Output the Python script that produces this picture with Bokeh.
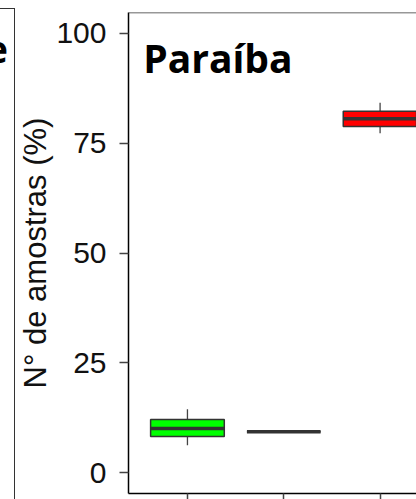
import numpy as np
from bokeh.plotting import figure
from bokeh.layouts import row
from bokeh.models import ColumnDataSource, Range1d, FixedTicker, Span, Label, Div
from bokeh.embed import file_html
from bokeh.resources import INLINE

# ---- data ----
positions = [1, 2, 3]
q1 = [8.2, 9.3, 78.8]
median = [10.0, 9.3, 80.6]
q3 = [12.1, 9.3, 82.3]
whisker_low = [6.2, 9.3, 77.3]
whisker_high = [14.4, 9.3, 84.2]
box_colors = ["#00FF00", "#00FF00", "#FF0000"]
y_ticks = [0, 25, 50, 75, 100]
title_text = "Paraíba"
y_label = "N° de amostras (%)"
neighbour_title_tail = "e"

box_w = 0.765
pos = np.array(positions, dtype=float)
src = ColumnDataSource(dict(
    x=pos, q1=q1, q3=q3, med=median, lo=whisker_low, hi=whisker_high,
    color=box_colors, x0=pos - box_w / 2, x1=pos + box_w / 2,
))

H = 499
Y0, Y1 = -4.78, 104.78

# ---- left sliver of the neighbouring panel (frame edge + end of its title) ----
sliver_html = (
    '<div style="position:absolute;left:0;top:8px;width:14.75px;height:495px;'
    'box-sizing:border-box;border-top:1.5px solid #333;'
    'border-right:1.5px solid #333;"></div>'
    '<div style="position:absolute;right:7px;top:29px;font-family:\'Open Sans\';'
    'font-weight:bold;font-size:38px;line-height:1;color:black;'
    'white-space:nowrap;">' + neighbour_title_tail + '</div>'
)
lp = Div(text=sliver_html, width=15, height=H, margin=0,
         styles={"position": "relative", "overflow": "visible"})

# ---- main panel ----
p = figure(width=401, height=H, output_backend="svg", toolbar_location=None,
           title=None, x_range=Range1d(0.388, 3.378), y_range=Range1d(Y0, Y1),
           min_border_left=108, min_border_right=0, min_border_top=12,
           min_border_bottom=6, margin=0)
p.outline_line_color = None
p.grid.visible = False
p.background_fill_color = "white"

# y axis
ya = p.yaxis[0]
ya.ticker = FixedTicker(ticks=y_ticks)
ya.axis_line_color = "black"
ya.axis_line_width = 1.5
ya.major_tick_in = 0
ya.major_tick_out = 9
ya.major_tick_line_color = "#444444"
ya.major_tick_line_width = 1.5
ya.minor_tick_line_color = None
ya.major_label_text_font = "Liberation Sans"
ya.major_label_text_font_size = "30px"
ya.major_label_text_color = "#111111"
ya.major_label_standoff = 13
ya.axis_label = y_label
ya.axis_label_text_font = "Liberation Sans"
ya.axis_label_text_font_size = "31px"
ya.axis_label_text_font_style = "normal"
ya.axis_label_text_color = "#111111"
ya.axis_label_standoff = 0

# x axis (its labels fall outside the picture)
xa = p.xaxis[0]
xa.ticker = FixedTicker(ticks=positions)
xa.axis_line_color = "black"
xa.axis_line_width = 1.5
xa.major_tick_in = 0
xa.major_tick_out = 6
xa.major_tick_line_color = "#444444"
xa.major_tick_line_width = 1.5
xa.minor_tick_line_color = None
xa.major_label_overrides = {k: "" for k in positions}
xa.major_label_standoff = 0

# top frame line
p.add_layout(Span(location=Y1, dimension="width", line_color="#333333",
                  line_width=1.5))

# whiskers (no caps)
p.segment(x0="x", y0="q3", x1="x", y1="hi", source=src,
          line_color="#444444", line_width=1.3)
p.segment(x0="x", y0="q1", x1="x", y1="lo", source=src,
          line_color="#444444", line_width=1.3)
# boxes
p.vbar(x="x", width=box_w, bottom="q1", top="q3", source=src,
       fill_color="color", line_color="#333333", line_width=1.5)
# medians
p.segment(x0="x0", y0="med", x1="x1", y1="med", source=src,
          line_color="#333333", line_width=3.5)

p.add_layout(Label(x=0.54, y=94.5, text=title_text, text_font="Open Sans",
                   text_font_style="bold", text_font_size="39px",
                   text_color="black", text_baseline="alphabetic"))

layout = row(lp, p, spacing=0)
open("out.html", "w").write(file_html(layout, INLINE))
